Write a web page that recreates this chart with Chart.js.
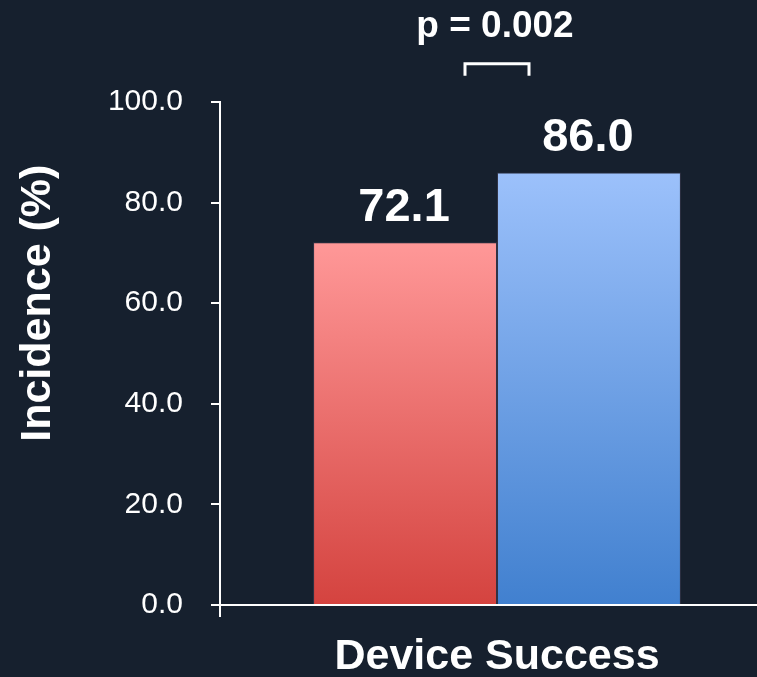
<!DOCTYPE html>
<html>
<head>
<meta charset="utf-8">
<script src="https://cdn.jsdelivr.net/npm/chart.js@4"></script>
<style>
  html, body { margin: 0; padding: 0; background: #16202e; overflow: hidden; }
  #wrap { width: 800px; height: 677px; }
</style>
</head>
<body>
<div id="wrap"><canvas id="chart"></canvas></div>
<script>
// Chart data
const categories = ['Device Success'];
const groupA = [72.1];
const groupB = [86.0];
const pLabels = ['p = 0.002'];
const yMin = 0, yMax = 100, yStep = 20;

const FONT = '"Liberation Sans", Arial, Helvetica, sans-serif';
Chart.defaults.font.family = FONT;
Chart.defaults.color = '#ffffff';

// vertical gradient from the top of each bar down to zero
function barGradient(light, dark) {
  return (ctx) => {
    const chart = ctx.chart;
    if (!chart.chartArea || ctx.raw == null) return light;
    const y = chart.scales.y;
    const top = y.getPixelForValue(ctx.raw);
    const bottom = y.getPixelForValue(0);
    const g = chart.ctx.createLinearGradient(0, top, 0, bottom);
    g.addColorStop(0, light);
    g.addColorStop(1, dark);
    return g;
  };
}

const annotations = {
  id: 'annotations',
  afterDraw(chart) {
    const ctx = chart.ctx;
    const x = chart.scales.x;
    const y = chart.scales.y;
    ctx.save();
    ctx.fillStyle = '#ffffff';

    // value labels above bars
    ctx.font = 'bold 47px ' + FONT;
    ctx.textAlign = 'center';
    ctx.textBaseline = 'alphabetic';
    chart.data.datasets.forEach((ds, i) => {
      chart.getDatasetMeta(i).data.forEach((bar, j) => {
        ctx.fillText(ds.data[j].toFixed(1), bar.x - 1, bar.y - 21);
      });
    });

    // significance bracket
    categories.forEach((c, j) => {
      const cx = x.getPixelForValue(j);
      const yTop = y.getPixelForValue(107.6);
      const yLeg = y.getPixelForValue(105.2);
      ctx.strokeStyle = '#ffffff';
      ctx.lineWidth = 3;
      ctx.beginPath();
      ctx.moveTo(cx - 32, yLeg);
      ctx.lineTo(cx - 32, yTop);
      ctx.lineTo(cx + 32, yTop);
      ctx.lineTo(cx + 32, yLeg);
      ctx.stroke();
      ctx.font = 'bold 37px ' + FONT;
      ctx.fillText(pLabels[j], cx - 2, y.getPixelForValue(112.9));
    });

    // y axis title
    ctx.translate(38, y.getPixelForValue(60));
    ctx.rotate(-Math.PI / 2);
    ctx.font = 'bold 43px ' + FONT;
    ctx.textBaseline = 'middle';
    ctx.fillText('Incidence (%)', 0, 0);
    ctx.restore();
  }
};

new Chart(document.getElementById('chart'), {
  type: 'bar',
  data: {
    labels: categories,
    datasets: [{
      data: groupA,
      backgroundColor: barGradient('#ff9898', '#d4433f'),
      borderColor: 'rgba(60,60,80,0.7)',
      borderWidth: 1,
      categoryPercentage: 0.664,
      barPercentage: 1.0
    }, {
      data: groupB,
      backgroundColor: barGradient('#9cc1fb', '#4180cf'),
      borderColor: 'rgba(60,60,80,0.7)',
      borderWidth: 1,
      categoryPercentage: 0.664,
      barPercentage: 1.0
    }]
  },
  options: {
    responsive: true,
    maintainAspectRatio: false,
    animation: false,
    layout: { padding: { top: 102, right: 26, left: 0, bottom: 0 } },
    plugins: { legend: { display: false }, tooltip: { enabled: false } },
    scales: {
      x: {
        grid: { drawOnChartArea: false, drawTicks: true, tickLength: 12, color: '#ffffff', lineWidth: 2 },
        border: { display: true, color: '#ffffff', width: 2 },
        ticks: { color: '#ffffff', font: { size: 43, weight: 'bold' }, padding: 14, maxRotation: 0 },
        afterFit(scale) { scale.height = 72; }
      },
      y: {
        min: yMin,
        max: yMax,
        grid: { drawOnChartArea: false, drawTicks: true, tickLength: 9, color: '#ffffff', lineWidth: 2 },
        border: { display: true, color: '#ffffff', width: 2 },
        ticks: {
          stepSize: yStep,
          color: '#ffffff',
          font: { size: 30 },
          padding: 28,
          callback: (v) => v.toFixed(1)
        },
        afterFit(scale) { scale.width = 220; }
      }
    }
  },
  plugins: [annotations]
});
</script>
</body>
</html>
